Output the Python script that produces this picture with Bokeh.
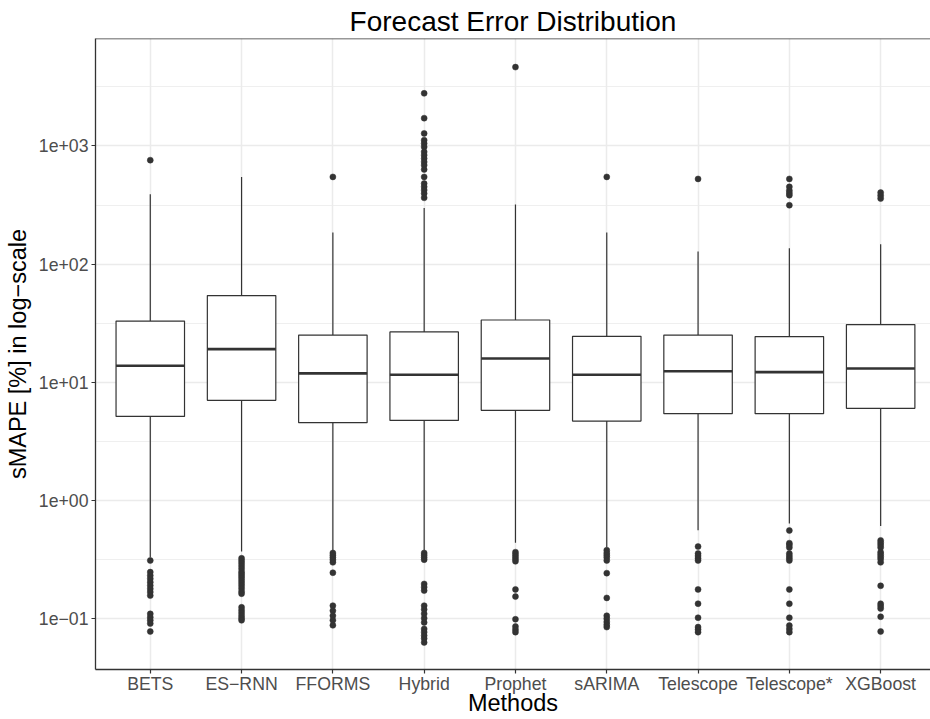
from bokeh.plotting import figure
from bokeh.models import Range1d, FixedTicker, Span
from bokeh.embed import file_html
from bokeh.resources import INLINE

# ---------------- data ----------------
methods = ["BETS", "ES\u2212RNN", "FFORMS", "Hybrid", "Prophet", "sARIMA",
           "Telescope", "Telescope*", "XGBoost"]
q1 = [5.15, 7.05, 4.56, 4.76, 5.80, 4.70, 5.43, 5.43, 6.03]
median = [13.8, 19.1, 11.9, 11.6, 15.9, 11.6, 12.4, 12.2, 13.1]
q3 = [33.0, 54.2, 25.1, 26.7, 33.7, 24.5, 25.1, 24.4, 30.8]
whisker_low = [0.33, 0.37, 0.37, 0.38, 0.44, 0.40, 0.56, 0.64, 0.61]
whisker_high = [391, 545, 185, 299, 320, 185, 128, 136, 147]

outliers_high = [
    [758],
    [],
    [547],
    [2787, 1718, 1277, 1119, 1050, 982, 891, 836, 783, 733, 688, 632, 547,
     481, 451, 423, 396, 364],
    [4645],
    [547],
    [526],
    [526, 451, 420, 400, 383, 315],
    [403, 380, 359],
]
outliers_low = [
    [0.311, 0.248, 0.232, 0.218, 0.204, 0.191, 0.179, 0.168, 0.157, 0.110,
     0.103, 0.097, 0.091, 0.078],
    [0.325, 0.31, 0.295, 0.28, 0.265, 0.25, 0.24, 0.23, 0.22, 0.21, 0.2, 0.19,
     0.18, 0.17, 0.163, 0.125, 0.118, 0.112, 0.106, 0.101, 0.097],
    [0.36, 0.345, 0.33, 0.315, 0.30, 0.245, 0.129, 0.117, 0.106, 0.097, 0.088],
    [0.36, 0.345, 0.33, 0.316, 0.197, 0.185, 0.173, 0.129, 0.12, 0.11, 0.101,
     0.093, 0.082, 0.077, 0.072, 0.068, 0.063],
    [0.366, 0.35, 0.335, 0.32, 0.306, 0.177, 0.154, 0.099, 0.086, 0.081, 0.077],
    [0.38, 0.36, 0.345, 0.33, 0.311, 0.243, 0.150, 0.106, 0.1, 0.094, 0.089,
     0.085],
    [0.408, 0.356, 0.34, 0.325, 0.311, 0.177, 0.134, 0.102, 0.085, 0.081, 0.077],
    [0.558, 0.436, 0.42, 0.40, 0.356, 0.34, 0.325, 0.311, 0.177, 0.134, 0.102,
     0.0875, 0.082, 0.077],
    [0.46, 0.44, 0.42, 0.40, 0.366, 0.35, 0.335, 0.32, 0.30, 0.190, 0.134,
     0.128, 0.122, 0.104, 0.078],
]

ytick_values = [0.1, 1, 10, 100, 1000]
ytick_labels = ["1e\u221201", "1e+00", "1e+01", "1e+02", "1e+03"]
yminor_values = [10 ** -0.5, 10 ** 0.5, 10 ** 1.5, 10 ** 2.5, 10 ** 3.5]

# ---------------- styling constants ----------------
FONT = "Liberation Sans"
DARK = "#333333"
GRID = "#EBEBEB"
BOX_W = 0.75
Y_LO, Y_HI = 0.0372, 8110

xs = [i + 1 for i in range(len(methods))]

p = figure(width=930, height=719, output_backend="svg", toolbar_location=None,
           y_axis_type="log",
           x_range=Range1d(0.4, 9.546), y_range=Range1d(Y_LO, Y_HI),
           min_border_left=95, min_border_right=0, min_border_top=38,
           min_border_bottom=50)
p.outline_line_color = None
p.background_fill_color = "white"
p.border_fill_color = "white"

# title
p.title.text = "Forecast Error Distribution"
p.title.align = "center"
p.title.text_font = FONT
p.title.text_font_size = "28px"
p.title.text_font_style = "normal"
p.title.text_color = "black"
p.title.standoff = 4

# grids
p.xgrid.ticker = FixedTicker(ticks=xs)
p.xgrid.grid_line_color = GRID
p.xgrid.grid_line_width = 1.5
p.yaxis.ticker = FixedTicker(ticks=ytick_values, minor_ticks=yminor_values)
p.ygrid.grid_line_color = GRID
p.ygrid.grid_line_width = 1.5
p.ygrid.minor_grid_line_color = GRID
p.ygrid.minor_grid_line_width = 0.8

# axes
p.xaxis.ticker = FixedTicker(ticks=xs)
p.xaxis.major_label_overrides = {x: m for x, m in zip(xs, methods)}
p.yaxis.major_label_overrides = {v: l for v, l in zip(ytick_values, ytick_labels)}
for ax in (p.xaxis, p.yaxis):
    ax.axis_line_color = DARK
    ax.axis_line_width = 1.3
    ax.major_tick_line_color = DARK
    ax.major_tick_line_width = 1.2
    ax.major_tick_out = 4
    ax.major_tick_in = 0
    ax.minor_tick_line_color = None
    ax.major_label_text_font = FONT
    ax.major_label_text_font_size = "17.7px"
    ax.major_label_text_color = "#4D4D4D"
    ax.axis_label_text_font = FONT
    ax.axis_label_text_font_size = "23.5px"
    ax.axis_label_text_font_style = "normal"
    ax.axis_label_text_color = "black"
p.xaxis.axis_label = "Methods"
p.yaxis.axis_label = "sMAPE [%] in log\u2212scale"
p.xaxis.major_label_standoff = 0
p.xaxis.axis_label_standoff = -7
p.yaxis.major_label_standoff = 3
p.yaxis.axis_label_standoff = 5

# top border of the panel
p.add_layout(Span(location=Y_HI, dimension="width", line_color=DARK,
                  line_width=1.3))

# whiskers
p.segment(x0=xs, x1=xs, y0=q3, y1=whisker_high, line_color=DARK, line_width=1.2)
p.segment(x0=xs, x1=xs, y0=q1, y1=whisker_low, line_color=DARK, line_width=1.2)

# boxes
p.vbar(x=xs, width=BOX_W, bottom=q1, top=q3, fill_color="white",
       line_color=DARK, line_width=1.2)

# medians
p.segment(x0=[x - BOX_W / 2 for x in xs], x1=[x + BOX_W / 2 for x in xs],
          y0=median, y1=median, line_color=DARK, line_width=2.6)

# outliers
ox, oy = [], []
for x, hi, lo in zip(xs, outliers_high, outliers_low):
    for v in hi + lo:
        ox.append(x)
        oy.append(v)
p.scatter(ox, oy, size=6, fill_color=DARK, line_color=DARK, line_width=0.5)

open("out.html", "w").write(file_html(p, INLINE))
